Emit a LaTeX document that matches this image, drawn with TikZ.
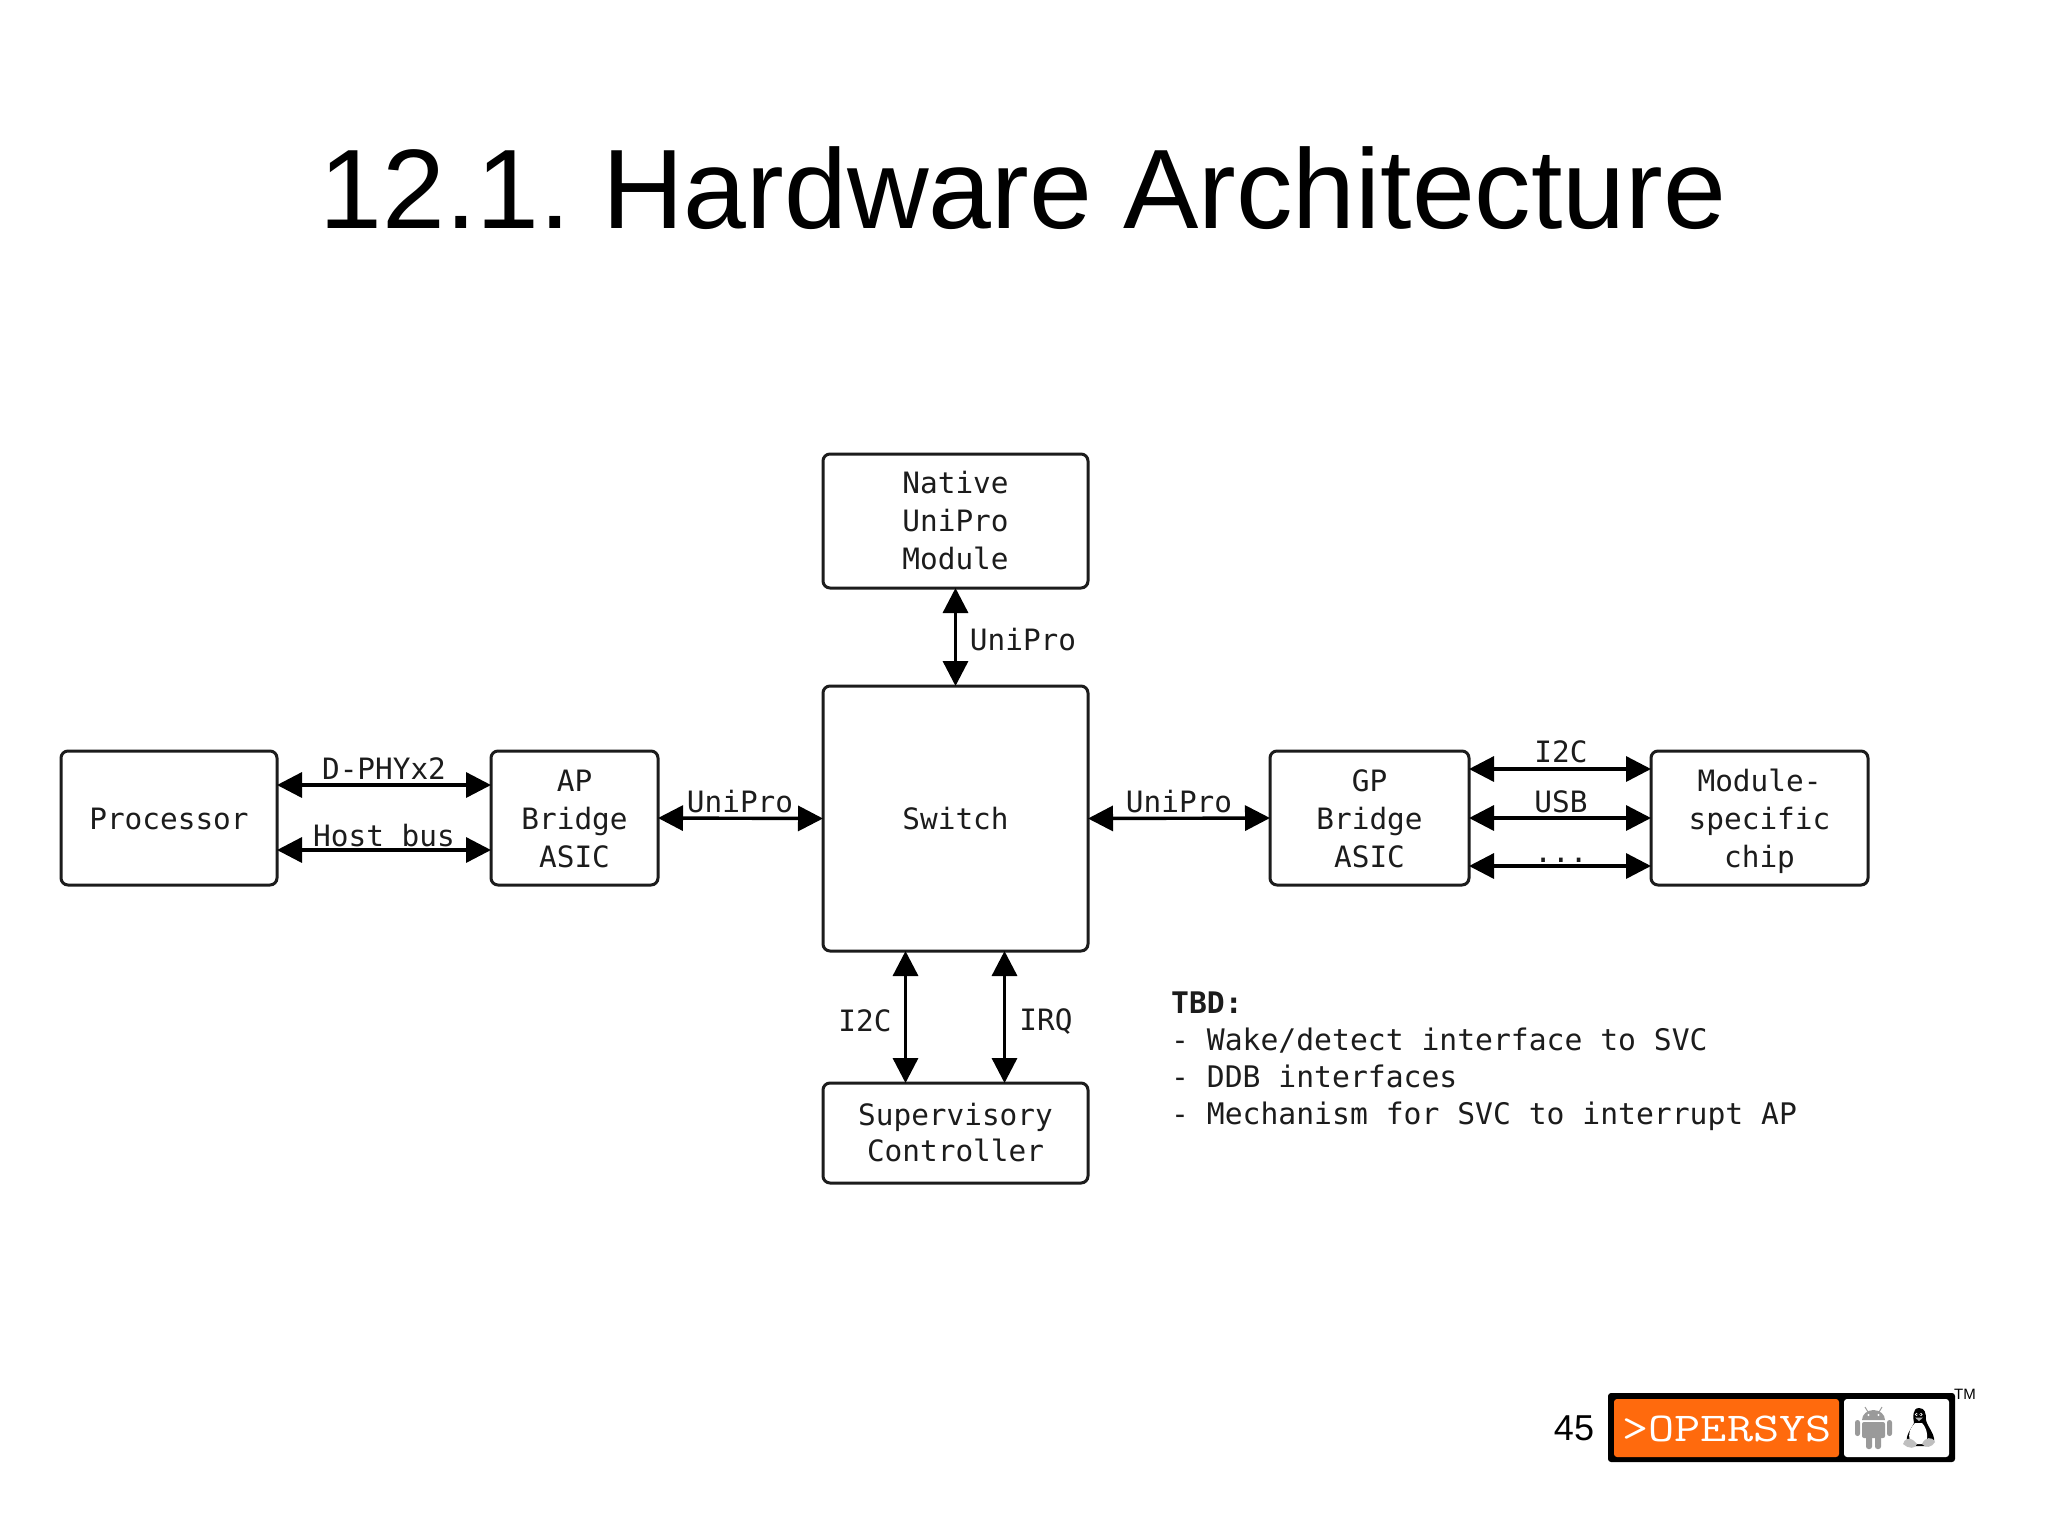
\documentclass[tikz,border=0pt]{standalone}
\usepackage{fontspec}
\setmainfont{Liberation Sans}
\setmonofont{DejaVu Sans Mono}
\newfontfamily\slabfont[FakeStretch=1.24]{Latin Modern Mono}
\usetikzlibrary{arrows.meta,calc}
\definecolor{ink}{HTML}{1C1C1C}
\definecolor{orangelogo}{HTML}{FF6A0D}
\definecolor{robot}{HTML}{9A9A9A}
\newcommand{\tallline}{\rule{0pt}{23.5pt}}
\tikzset{
  block/.style={draw=ink,line width=3pt,outer sep=0pt,rounded corners=7pt,fill=white,inner sep=0pt,
    align=center,text=ink,font=\fontsize{29.4}{38}\selectfont\ttfamily},
  bi/.style={draw=black,line width=3.4pt,{Triangle[length=25pt,width=25pt]}-{Triangle[length=25pt,width=25pt]}},
  lab/.style={inner sep=0pt,text=ink,font=\fontsize{29.4}{38}\selectfont\ttfamily}
}
\begin{document}
\begin{tikzpicture}[x=1pt,y=-1pt]
\useasboundingbox (0,0) rectangle (2048,1535);
\fill[white] (0,0) rectangle (2048,1535);
\node[inner sep=0pt,font=\fontsize{113}{120}\selectfont\frenchspacing] (title) at (1023,188) {12.1. Hardware Architecture};

\node[block,minimum width=216pt,minimum height=134pt] (proc) at (169,818) {\tallline Processor};
\node[block,minimum width=167pt,minimum height=134pt] (ap) at (574.5,818) {\tallline AP\\Bridge\\ASIC};
\node[block,minimum width=265pt,minimum height=265pt] (sw) at (955.5,818.5) {Switch};
\node[block,minimum width=265pt,minimum height=134pt] (nat) at (955.5,521) {Native\\UniPro\\Module};
\node[block,minimum width=199pt,minimum height=134pt] (gp) at (1369.5,818) {\tallline GP\\Bridge\\ASIC};
\node[block,minimum width=217pt,minimum height=134pt] (mod) at (1759.5,818) {\tallline Module-\\specific\\\smash{chip}};
\node[block,minimum width=265pt,minimum height=100pt] (sup) at (955.5,1133) {Supervisory\\[-2pt]Controller};

\draw[bi] ([yshift=33pt]proc.east) -- ([yshift=33pt]ap.west);
\draw[bi] ([yshift=-32pt]proc.east) -- ([yshift=-32pt]ap.west);
\draw[bi] (ap.east) -- (sw.west);
\draw[bi] (sw.east) -- (gp.west);
\draw[bi] (nat.south) -- (sw.north);
\draw[bi] ([xshift=-50pt]sw.south) -- ([xshift=-50pt]sup.north);
\draw[bi] ([xshift=49pt]sw.south) -- ([xshift=49pt]sup.north);
\draw[bi] ([yshift=49pt]gp.east) -- ([yshift=49pt]mod.west);
\draw[bi] (gp.east) -- (mod.west);
\draw[bi] ([yshift=-48pt]gp.east) -- ([yshift=-48pt]mod.west);

\node[lab] (l1) at (384,769) {D-PHYx2};
\node[lab] (l2) at (384,836) {Host bus};
\node[lab] (l3) at (740,802) {UniPro};
\node[lab] (l4) at (1023,640) {UniPro};
\node[lab] (l5) at (1179,802) {UniPro};
\node[lab] (l6) at (1561,752) {I2C};
\node[lab] (l7) at (1561,802) {USB};
\node[lab] (l8) at (1561,860) {...};
\node[lab] (l9) at (865,1021) {I2C};
\node[lab] (l10) at (1046,1022) {IRQ};
\node[lab,anchor=north west,align=left,font=\fontsize{29.7}{37}\selectfont\ttfamily] (tbd) at (1171,992)
  {\textbf{TBD:}\\- Wake/detect interface to SVC\\- DDB interfaces\\- Mechanism for SVC to interrupt AP};

\node[inner sep=0pt,font=\fontsize{36}{40}\selectfont] (page) at (1574,1428) {45};
\fill[black,rounded corners=3pt] (1608,1393) rectangle (1955,1462);
\fill[orangelogo,rounded corners=3pt] (1614,1399) rectangle (1839,1457);
\fill[white,rounded corners=3pt] (1844,1399) rectangle (1949,1457);
\node[inner sep=0pt,text=white,font=\fontsize{41}{44}\selectfont\slabfont] (brand) at (1727,1429) {>OPERSYS};
\node[inner sep=0pt,font=\fontsize{15}{16}\selectfont] (tm) at (1965,1394) {TM};

% android
\fill[robot] (1862,1420) arc[start angle=180,end angle=0,x radius=11.5,y radius=-10] -- cycle;
\fill[robot,rounded corners=2pt] (1862,1422) rectangle (1885,1438);
\fill[robot,rounded corners=2.5pt] (1866,1430) rectangle (1872,1449);
\fill[robot,rounded corners=2.5pt] (1875,1430) rectangle (1881,1449);
\fill[robot,rounded corners=2.4pt] (1855,1420) rectangle (1860,1436);
\fill[robot,rounded corners=2.4pt] (1887,1420) rectangle (1892,1436);
\draw[robot,line width=1pt] (1868,1412) -- (1865,1407) (1879,1412) -- (1882,1407);
\fill[white] (1868.5,1415) circle (1.2) (1878.5,1415) circle (1.2);

% tux
\fill[black] (1919,1408) .. controls (1912,1408) and (1913,1418) .. (1914,1423)
  .. controls (1911,1429) and (1905,1436) .. (1907,1443)
  -- (1912,1446) -- (1929,1446) -- (1934,1441)
  .. controls (1935,1434) and (1927,1426) .. (1926,1420)
  .. controls (1926,1413) and (1925,1408) .. (1919,1408) -- cycle;
\fill[white] (1915,1423) .. controls (1909,1429) and (1907,1437) .. (1912,1444)
  -- (1925,1444) .. controls (1929,1438) and (1927,1428) .. (1922,1423) -- cycle;
\fill[white] (1916.5,1414.5) circle (1.7) (1921,1414.5) circle (1.7);
\fill[black] (1917,1414.5) circle (0.8) (1920.6,1414.5) circle (0.8);
\fill[black!30] (1915,1417.5) -- (1923,1417.5) -- (1919,1421) -- cycle;
\fill[black!25] (1903,1444) .. controls (1904,1439) and (1910,1435) .. (1917,1444)
  .. controls (1916,1449) and (1908,1449) .. (1903,1444) -- cycle;
\fill[black!25] (1922,1444) .. controls (1925,1437) and (1932,1436) .. (1935,1442)
  .. controls (1932,1447) and (1926,1449) .. (1922,1444) -- cycle;
\end{tikzpicture}
\end{document}
